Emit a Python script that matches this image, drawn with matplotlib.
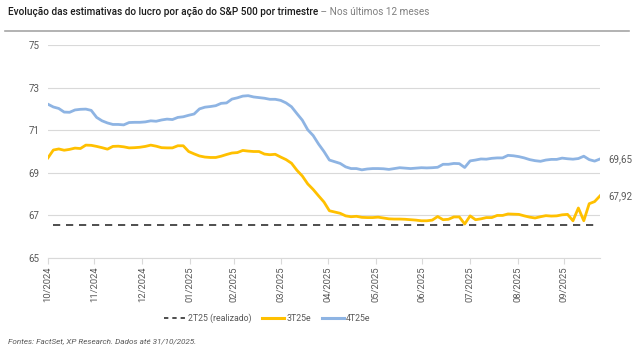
import matplotlib
matplotlib.use("Agg")
import matplotlib.pyplot as plt
import matplotlib.dates as mdates
from matplotlib.lines import Line2D
import pandas as pd

plt.rcParams['font.family'] = ['Roboto', 'DejaVu Sans']

# half-week observations, 31/10/2024 onwards
dates = pd.date_range('2024-10-31', periods=103, freq='84h')

est_4t25 = [72.22, 72.09, 72.02, 71.85, 71.84, 71.95, 71.98, 71.99, 71.93, 71.60,
            71.44, 71.34, 71.27, 71.27, 71.25, 71.36, 71.37, 71.37, 71.39, 71.44,
            71.42, 71.48, 71.52, 71.50, 71.60, 71.63, 71.70, 71.76, 72.00, 72.08,
            72.11, 72.15, 72.26, 72.28, 72.46, 72.52, 72.60, 72.62, 72.56, 72.53,
            72.50, 72.45, 72.45, 72.40, 72.28, 72.10, 71.78, 71.47, 71.02, 70.75,
            70.35, 70.00, 69.60, 69.52, 69.44, 69.28, 69.20, 69.20, 69.14, 69.18,
            69.20, 69.20, 69.19, 69.16, 69.20, 69.24, 69.22, 69.20, 69.22, 69.24,
            69.23, 69.24, 69.26, 69.40, 69.40, 69.44, 69.43, 69.25, 69.56, 69.60,
            69.65, 69.64, 69.68, 69.70, 69.70, 69.82, 69.80, 69.76, 69.70, 69.62,
            69.57, 69.54, 69.60, 69.63, 69.63, 69.69, 69.66, 69.64, 69.67, 69.78,
            69.62, 69.55, 69.65]

est_3t25 = [69.70, 70.07, 70.12, 70.06, 70.10, 70.16, 70.14, 70.30, 70.29, 70.24,
            70.18, 70.11, 70.24, 70.25, 70.22, 70.17, 70.18, 70.20, 70.24, 70.30,
            70.25, 70.18, 70.17, 70.17, 70.27, 70.27, 70.00, 69.89, 69.79, 69.74,
            69.72, 69.72, 69.78, 69.86, 69.93, 69.95, 70.05, 70.02, 70.00, 70.00,
            69.88, 69.85, 69.87, 69.74, 69.62, 69.45, 69.12, 68.85, 68.48, 68.22,
            67.92, 67.63, 67.22, 67.16, 67.10, 66.98, 66.94, 66.96, 66.91, 66.90,
            66.90, 66.92, 66.88, 66.84, 66.83, 66.83, 66.82, 66.80, 66.78, 66.75,
            66.75, 66.78, 66.95, 66.80, 66.82, 66.93, 66.93, 66.60, 66.98, 66.80,
            66.84, 66.90, 66.90, 67.00, 67.00, 67.07, 67.06, 67.05, 66.98, 66.92,
            66.88, 66.94, 66.99, 66.97, 66.98, 67.03, 67.05, 66.75, 67.35, 66.75,
            67.55, 67.65, 67.92]

realizado_2t25 = 66.53

yticks = [65, 67, 69, 71, 73, 75]
month_ticks = pd.date_range('2024-10-31', '2025-09-30', freq='ME')

c_yellow = '#FFC000'
c_blue = '#8EB4E3'
c_dash = '#404040'
c_text = '#595959'

fig = plt.figure(figsize=(6.39, 3.54), dpi=100)
ax = fig.add_axes([0.075, 0.271, 0.864, 0.602])

ax.axhline(realizado_2t25, xmin=0.01, xmax=0.99, color=c_dash, lw=1.3, ls=(0, (4, 3.2)))
ax.plot(dates, est_3t25, color=c_yellow, lw=2.0)
ax.plot(dates, est_4t25, color=c_blue, lw=2.0)

ax.set_ylim(65, 75)
ax.set_yticks(yticks)
ax.set_xlim(dates[0], dates[-1])
ax.set_xticks(month_ticks)
ax.xaxis.set_major_formatter(mdates.DateFormatter('%m/%Y'))
ax.grid(axis='y', color='#D9D9D9', lw=0.8)
ax.set_axisbelow(True)
for s in ['top', 'right', 'left']:
    ax.spines[s].set_visible(False)
ax.spines['bottom'].set_color('#D9D9D9')
ax.tick_params(axis='y', length=0, labelsize=7, labelcolor=c_text, pad=6)
ax.tick_params(axis='x', length=4, color='#D9D9D9', labelsize=6.8,
               labelcolor=c_text, labelrotation=90, pad=2)

# end labels
ax.annotate(f'{est_4t25[-1]:.2f}'.replace('.', ','), (dates[-1], est_4t25[-1]),
            xytext=(6, 0), textcoords='offset points', va='center',
            fontsize=7, color=c_text, annotation_clip=False)
ax.annotate(f'{est_3t25[-1]:.2f}'.replace('.', ','), (dates[-1], est_3t25[-1]),
            xytext=(6, 0), textcoords='offset points', va='center',
            fontsize=7, color=c_text, annotation_clip=False)

handles = [Line2D([], [], color=c_dash, lw=1.3, ls=(0, (2.4, 2.2))),
           Line2D([], [], color=c_yellow, lw=2.2),
           Line2D([], [], color=c_blue, lw=2.2)]
fig.legend(handles, ['2T25 (realizado)', '3T25e', '4T25e'], loc='center',
           bbox_to_anchor=(0.418, 0.10), ncol=3, frameon=False, fontsize=6.3,
           labelcolor=c_text, handlelength=2.5, handletextpad=0.2, columnspacing=1.3)

# title
t = fig.text(0.012, 0.965, 'Evolução das estimativas do lucro por ação do S&P 500 por trimestre',
             fontsize=7.2, color='#1a1a1a', weight='medium', va='center')
fig.canvas.draw()
bb = t.get_window_extent()
fig.text(bb.x1 / fig.bbox.width, 0.965, ' – Nos últimos 12 meses', fontsize=7.2,
         color='#7f7f7f', va='center')
fig.add_artist(Line2D([0.008, 0.985], [0.912, 0.912], color='#a6a6a6', lw=1.2,
                      transform=fig.transFigure))

fig.text(0.012, 0.035, 'Fontes: FactSet, XP Research. Dados até 31/10/2025.',
         fontsize=5.9, style='italic', color=c_text, va='center')

fig.savefig('out.png', dpi=100)
